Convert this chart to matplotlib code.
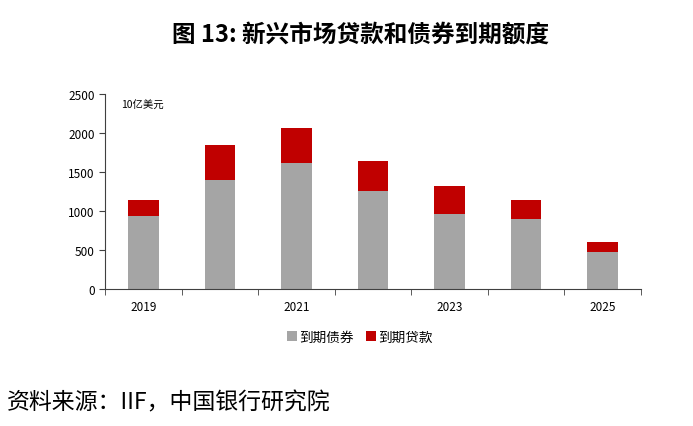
import numpy as np
import matplotlib.pyplot as plt

plt.rcParams['font.family'] = ['Noto Sans CJK SC', 'DejaVu Sans']

years = ['2019', '2020', '2021', '2022', '2023', '2024', '2025']
bonds = [932, 1402, 1615, 1260, 962, 897, 470]
loans = [205, 444, 445, 377, 358, 248, 136]
tick_labels = ['2019', '', '2021', '', '2023', '', '2025']

fig = plt.figure(figsize=(6.93, 4.27), dpi=100)
ax = fig.add_axes([0.1515, 0.3208, 0.7735, 0.4567])

x = np.arange(len(years))
ax.bar(x, bonds, width=0.4, color='#A5A5A5', label='到期债券')
ax.bar(x, loans, width=0.4, bottom=bonds, color='#C00000', label='到期贷款')

ax.set_xlim(-0.5, len(years) - 0.5)
ax.set_ylim(0, 2500)
ax.set_yticks([0, 500, 1000, 1500, 2000, 2500])
ax.set_xticks(x)
ax.set_xticklabels(tick_labels)
ax.set_xticks(np.arange(-0.5, len(years)), minor=True)
ax.tick_params(axis='x', which='major', length=0, labelsize=8.5, pad=8)
ax.tick_params(axis='x', which='minor', length=4, color='#404040', direction='out')
ax.tick_params(axis='y', labelsize=8.5, length=4, color='#404040')

for s in ['top', 'right']:
    ax.spines[s].set_visible(False)
for s in ['left', 'bottom']:
    ax.spines[s].set_color('#404040')

ax.text(0.03, 0.97, '10亿美元', transform=ax.transAxes, fontsize=7.5, va='top')

ax.legend(loc='center', bbox_to_anchor=(0.476, -0.246), ncol=2, frameon=False,
          fontsize=9.8, handlelength=0.7, handleheight=0.7, handletextpad=0.2, columnspacing=0.9)

fig.text(0.52, 0.92, '图 13: 新兴市场贷款和债券到期额度', ha='center', va='center',
         fontsize=17, fontweight='bold')
fig.text(0.01, 0.056, '资料来源：IIF，中国银行研究院', ha='left', va='center', fontsize=16.5)

fig.savefig('out.png', dpi=100)
